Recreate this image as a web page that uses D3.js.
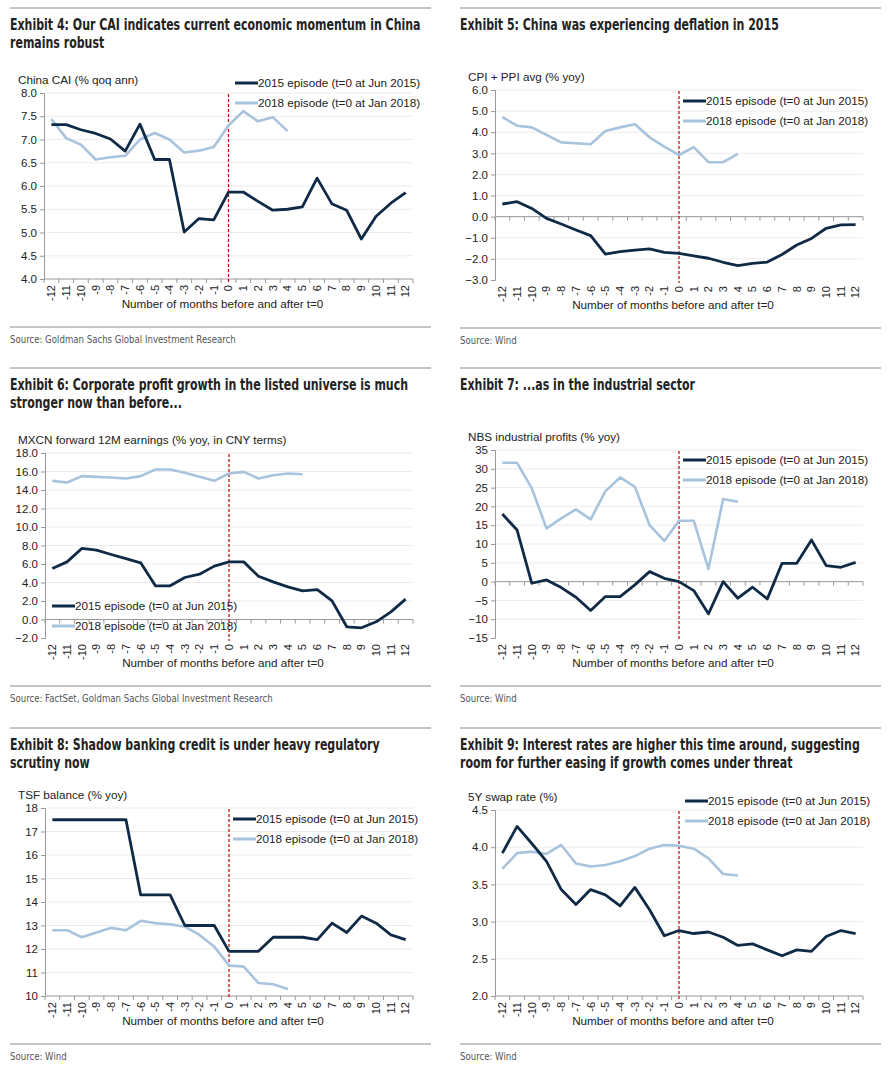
<!DOCTYPE html>
<html lang="en">
<head>
<meta charset="UTF-8">
<title>China episodes</title>
<script src="https://cdnjs.cloudflare.com/ajax/libs/d3/7.8.5/d3.min.js"></script>
<style>
  body { margin: 0; background: #fff; }
  .narrow { font-family: "DejaVu Sans Condensed", "DejaVu Sans", sans-serif; }
  .sans { font-family: "Liberation Sans", Arial, sans-serif; }
</style>
</head>
<body>
<script>
// categories: months before / after t=0
var months = [-12,-11,-10,-9,-8,-7,-6,-5,-4,-3,-2,-1,0,1,2,3,4,5,6,7,8,9,10,11,12];
var legendNames = ["2015 episode (t=0 at Jun 2015)", "2018 episode (t=0 at Jan 2018)"];

// Exhibit 4 - China CAI
var cai2015 = [7.32,7.32,7.21,7.13,7.01,6.75,7.33,6.57,6.57,5.01,5.30,5.27,5.87,5.87,5.67,5.48,5.50,5.55,6.17,5.62,5.48,4.86,5.35,5.63,5.86];
var cai2018 = [7.44,7.03,6.89,6.57,6.62,6.65,7.00,7.14,7.00,6.72,6.76,6.84,7.30,7.61,7.39,7.48,7.18];
var caiTicks = [4.0,4.5,5.0,5.5,6.0,6.5,7.0,7.5,8.0];

// Exhibit 5 - CPI + PPI avg
var cpi2015 = [0.60,0.71,0.39,-0.08,-0.35,-0.63,-0.90,-1.77,-1.66,-1.58,-1.53,-1.69,-1.74,-1.86,-1.97,-2.16,-2.32,-2.21,-2.15,-1.79,-1.34,-1.03,-0.55,-0.39,-0.38];
var cpi2018 = [4.71,4.31,4.23,3.87,3.52,3.48,3.43,4.06,4.23,4.38,3.76,3.32,2.92,3.29,2.58,2.58,2.97];
var cpiTicks = [-3,-2,-1,0,1,2,3,4,5,6];

// Exhibit 6 - MXCN forward 12M earnings
var eps2015 = [5.51,6.23,7.68,7.50,7.03,6.59,6.13,3.64,3.64,4.54,4.90,5.77,6.23,6.23,4.68,4.07,3.53,3.10,3.24,2.02,-0.79,-0.90,-0.25,0.83,2.20];
var eps2018 = [14.99,14.81,15.50,15.42,15.35,15.24,15.50,16.22,16.22,15.86,15.42,14.99,15.78,15.96,15.24,15.60,15.78,15.71];
var epsTicks = [-2,0,2,4,6,8,10,12,14,16,18];

// Exhibit 7 - NBS industrial profits
var nbs2015 = [17.96,13.72,-0.44,0.44,-1.59,-4.16,-7.70,-3.98,-3.98,-0.88,2.65,0.88,0.0,-2.39,-8.58,0.0,-4.42,-1.50,-4.60,4.87,4.87,11.06,4.25,3.81,5.13];
var nbs2018 = [31.6,31.6,24.8,14.16,16.81,19.2,16.55,24.07,27.7,25.22,15.04,10.8,16.19,16.19,3.36,21.95,21.24];
var nbsTicks = [-15,-10,-5,0,5,10,15,20,25,30,35];

// Exhibit 8 - TSF balance
var tsf2015 = [17.5,17.5,17.5,17.5,17.5,17.5,14.3,14.3,14.3,13.0,13.0,13.0,11.9,11.9,11.9,12.5,12.5,12.5,12.4,13.1,12.7,13.4,13.1,12.6,12.4];
var tsf2018 = [12.8,12.8,12.5,12.7,12.9,12.8,13.2,13.1,13.05,12.95,12.6,12.1,11.3,11.25,10.55,10.5,10.3];
var tsfTicks = [10,11,12,13,14,15,16,17,18];

// Exhibit 9 - 5Y swap rate
var swap2015 = [3.92,4.28,4.05,3.81,3.43,3.23,3.43,3.36,3.21,3.46,3.16,2.81,2.88,2.84,2.86,2.79,2.68,2.70,2.62,2.54,2.62,2.60,2.80,2.88,2.84];
var swap2018 = [3.71,3.92,3.94,3.91,4.03,3.78,3.74,3.76,3.81,3.88,3.98,4.03,4.02,3.98,3.85,3.64,3.62];
var swapTicks = [2.0,2.5,3.0,3.5,4.0,4.5];

var navy = "#0f2a47", light = "#a8c3dd", red = "#c00000";

var svg = d3.select("body").append("svg")
  .attr("width", 890).attr("height", 1081);
svg.append("rect").attr("width", 890).attr("height", 1081).attr("fill", "#fff");

var panels = [
  { ox: 0, oy: 0, title: ["Exhibit 4: Our CAI indicates current economic momentum in China", "remains robust"],
    ylabel: "China CAI (% qoq ann)", s15: cai2015, s18: cai2018, ticks: caiTicks, fmt: ".1f",
    source: "Source: Goldman Sachs Global Investment Research",
    left: 44, right: 413, top: 93, bottom: 279, leg: [235, 83], zeroAxis: false },
  { ox: 445, oy: 0, title: ["Exhibit 5: China was experiencing deflation in 2015"],
    ylabel: "CPI + PPI avg (% yoy)", s15: cpi2015, s18: cpi2018, ticks: cpiTicks, fmt: ".1f",
    source: "Source: Wind",
    left: 50, right: 418, top: 90, bottom: 280, leg: [238, 101], zeroAxis: true },
  { ox: 0, oy: 360, title: ["Exhibit 6: Corporate profit growth in the listed universe is much", "stronger now than before..."],
    ylabel: "MXCN forward 12M earnings (% yoy, in CNY terms)", s15: eps2015, s18: eps2018, ticks: epsTicks, fmt: ".1f",
    source: "Source: FactSet, Goldman Sachs Global Investment Research",
    left: 45, right: 413, top: 93, bottom: 278, leg: [52, 246], zeroAxis: true },
  { ox: 445, oy: 360, title: ["Exhibit 7: ...as in the industrial sector"],
    ylabel: "NBS industrial profits (% yoy)", s15: nbs2015, s18: nbs2018, ticks: nbsTicks, fmt: "d",
    source: "Source: Wind",
    left: 50, right: 418, top: 90, bottom: 278, leg: [238, 100], zeroAxis: true },
  { ox: 0, oy: 720, title: ["Exhibit 8: Shadow banking credit is under heavy regulatory", "scrutiny now"],
    ylabel: "TSF balance (% yoy)", s15: tsf2015, s18: tsf2018, ticks: tsfTicks, fmt: "d",
    source: "Source: Wind",
    left: 45, right: 413, top: 88, bottom: 276, leg: [233, 99], zeroAxis: false },
  { ox: 445, oy: 720, title: ["Exhibit 9: Interest rates are higher this time around, suggesting", "room for further easing if growth comes under threat"],
    ylabel: "5Y swap rate (%)", s15: swap2015, s18: swap2018, ticks: swapTicks, fmt: ".1f",
    source: "Source: Wind",
    left: 50, right: 418, top: 90, bottom: 276, leg: [240, 81], zeroAxis: false }
];

// squeeze the condensed face to the narrower print face of the reference
var probe = svg.append("text").attr("class", "narrow").attr("font-size", "15px").attr("font-weight", "bold")
  .text(panels[0].title[0]);
var titleScale = 411 / probe.node().getComputedTextLength();
probe.attr("font-size", "10.5px").attr("font-weight", "normal").text(panels[0].source);
var srcScale = 226 / probe.node().getComputedTextLength();
probe.remove();

panels.forEach(function(p, pi) {
  var g = svg.append("g").attr("transform", "translate(" + p.ox + "," + p.oy + ")");
  var tx = p.ox === 0 ? 10 : 15;
  var lx = p.ox === 0 ? 18 : 23;

  // header and footer rules
  g.append("line").attr("x1", tx).attr("x2", tx + 421).attr("y1", 8).attr("y2", 8)
    .attr("stroke", "#8a8a8a").attr("stroke-width", 1);
  g.append("line").attr("x1", tx).attr("x2", tx + 421).attr("y1", p.bottom + 48).attr("y2", p.bottom + 48)
    .attr("stroke", "#8a8a8a").attr("stroke-width", 1);

  p.title.forEach(function(t, i) {
    g.append("text").attr("class", "narrow").text(t)
      .attr("transform", "translate(" + tx + "," + (30 + i * 18) + ") scale(" + titleScale + ",1)")
      .attr("font-size", "15px").attr("font-weight", "bold").attr("fill", "#222");
  });

  g.append("text").attr("class", "narrow").text(p.source)
    .attr("transform", "translate(" + tx + "," + (p.bottom + 64) + ") scale(" + srcScale + ",1)")
    .attr("font-size", "10.5px").attr("fill", "#555");

  g.append("text").attr("class", "sans").text(p.ylabel)
    .attr("x", lx).attr("y", p.top - 9)
    .attr("font-size", "11.7px").attr("fill", "#222");

  var x = d3.scaleBand().domain(months).range([p.left, p.right]);
  var y = d3.scaleLinear().domain([p.ticks[0], p.ticks[p.ticks.length - 1]]).range([p.bottom, p.top]);

  // gridlines
  g.append("g").selectAll("line").data(p.ticks.slice(1)).enter().append("line")
    .attr("x1", p.left).attr("x2", p.right)
    .attr("y1", function(d) { return y(d); }).attr("y2", function(d) { return y(d); })
    .attr("stroke", "#ececec").attr("stroke-width", 1);

  // y axis
  var yAxis = g.append("g").attr("transform", "translate(" + p.left + ",0)")
    .call(d3.axisLeft(y).tickValues(p.ticks).tickFormat(d3.format(p.fmt)).tickSize(4).tickPadding(3));
  yAxis.selectAll("text").attr("class", "sans").attr("font-size", "11.5px").attr("fill", "#222");
  yAxis.selectAll("line, path").attr("stroke", "#999");

  // x axis: line at zero (or bottom), ticks at category boundaries, labels below plot
  var axisY = p.zeroAxis ? y(0) : p.bottom;
  var bounds = months.map(function(m) { return x(m); }).concat([x(months[months.length - 1]) + x.bandwidth()]);
  g.append("line").attr("x1", p.left).attr("x2", p.right).attr("y1", axisY).attr("y2", axisY)
    .attr("stroke", "#999");
  g.append("g").selectAll("line").data(bounds).enter().append("line")
    .attr("x1", function(d) { return d; }).attr("x2", function(d) { return d; })
    .attr("y1", axisY).attr("y2", axisY + 4).attr("stroke", "#999");
  g.append("g").selectAll("text").data(months).enter().append("text")
    .attr("class", "sans")
    .attr("transform", function(d) { return "translate(" + (x(d) + x.bandwidth() / 2) + "," + (p.bottom + 6) + ") rotate(-90)"; })
    .attr("text-anchor", "end").attr("dy", "0.35em")
    .attr("font-size", "11px").attr("fill", "#222")
    .text(function(d) { return d; });

  g.append("text").attr("class", "sans").text("Number of months before and after t=0")
    .attr("x", (p.left + p.right) / 2 - 6).attr("y", p.bottom + 29)
    .attr("text-anchor", "middle").attr("font-size", "11.7px").attr("fill", "#222");

  // t=0 marker
  var x0 = x(0) + x.bandwidth() / 2;
  g.append("line").attr("x1", x0).attr("x2", x0).attr("y1", p.top + 1).attr("y2", p.bottom + 3)
    .attr("stroke", red).attr("stroke-width", 1.2).attr("stroke-dasharray", "3,2");

  var line = d3.line()
    .x(function(d, i) { return x(months[i]) + x.bandwidth() / 2; })
    .y(function(d) { return y(d); });

  g.append("path").datum(p.s18).attr("d", line)
    .attr("fill", "none").attr("stroke", light).attr("stroke-width", 2.6).attr("stroke-linejoin", "round");
  g.append("path").datum(p.s15).attr("d", line)
    .attr("fill", "none").attr("stroke", navy).attr("stroke-width", 2.8).attr("stroke-linejoin", "round");

  // legend
  [navy, light].forEach(function(c, i) {
    var ly = p.leg[1] + i * 20;
    g.append("line").attr("x1", p.leg[0]).attr("x2", p.leg[0] + 23).attr("y1", ly).attr("y2", ly)
      .attr("stroke", c).attr("stroke-width", 3);
    g.append("text").attr("class", "sans").text(legendNames[i])
      .attr("x", p.leg[0] + 23).attr("y", ly + 4)
      .attr("font-size", "11.7px").attr("fill", "#222");
  });
});
</script>
</body>
</html>
